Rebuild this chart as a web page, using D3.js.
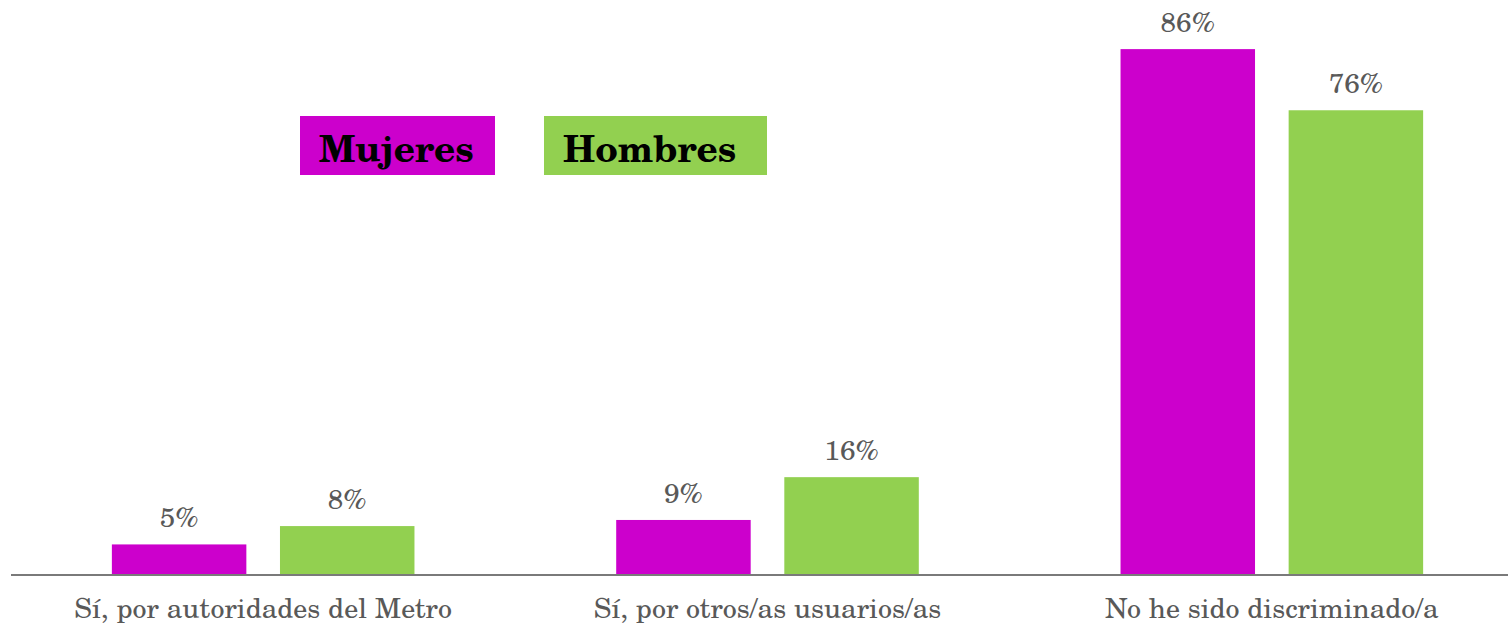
<!DOCTYPE html>
<html>
<head>
<meta charset="utf-8">
<script src="https://cdn.jsdelivr.net/npm/d3@7"></script>
<style>
  html, body { margin: 0; padding: 0; background: #ffffff; }
  svg { display: block; }
</style>
</head>
<body>
<svg id="chart" width="1508" height="626"></svg>
<script>
// Categories, series and their percentages
const categories = ["Sí, por autoridades del Metro", "Sí, por otros/as usuarios/as", "No he sido discriminado/a"];
const seriesNames = ["Mujeres", "Hombres"];
const mujeres = [5, 9, 86];
const hombres = [8, 16, 76];
const seriesColors = ["#CC00CC", "#92D050"];

const seriesValues = [mujeres, hombres];
const rows = categories.map((c, i) => ({
  category: c,
  values: seriesNames.map((s, j) => ({ series: s, value: seriesValues[j][i] }))
}));

const W = 1508, H = 626;
const baseY = 575;
const fontFamily = "'Century Schoolbook', 'TeX Gyre Schola', 'DejaVu Serif', serif";

const svg = d3.select("#chart");

const x0 = d3.scaleBand().domain(categories).range([11, 1524]).paddingInner(0).paddingOuter(0);
const x1 = d3.scaleBand().domain(seriesNames).range([0, x0.bandwidth()]).paddingInner(0.2).paddingOuter(0.6);
const y = d3.scaleLinear().domain([0, 100]).range([baseY, baseY - 611.5]);
const color = d3.scaleOrdinal().domain(seriesNames).range(seriesColors);

// Bars
const groups = svg.append("g").selectAll("g")
  .data(rows).join("g")
  .attr("transform", d => `translate(${x0(d.category)},0)`);

groups.selectAll("rect")
  .data(d => d.values).join("rect")
  .attr("x", d => x1(d.series))
  .attr("y", d => y(d.value))
  .attr("width", x1.bandwidth())
  .attr("height", d => y(0) - y(d.value))
  .attr("fill", d => color(d.series));

// Value labels
groups.selectAll("text")
  .data(d => d.values).join("text")
  .attr("x", d => x1(d.series) + x1.bandwidth() / 2)
  .attr("y", d => y(d.value) - 17)
  .attr("text-anchor", "middle")
  .attr("font-family", fontFamily)
  .attr("font-size", 28)
  .attr("fill", "#595959")
  .text(d => d.value + "%");

// Category axis
const axis = svg.append("g")
  .attr("transform", `translate(0,${baseY})`)
  .call(d3.axisBottom(x0).tickSize(0).tickSizeOuter(0));
axis.select(".domain").remove();
axis.append("line")
  .attr("x1", 11).attr("x2", W)
  .attr("y1", 0).attr("y2", 0)
  .attr("stroke", "#7a7a7a").attr("stroke-width", 2);
axis.selectAll(".tick text")
  .attr("y", 43).attr("dy", 0)
  .attr("font-family", fontFamily)
  .attr("font-size", 28)
  .attr("fill", "#595959");

// Legend
const legendBoxes = [
  { x: 300, w: 195 },
  { x: 544, w: 223 }
];
const legend = svg.append("g").selectAll("g")
  .data(seriesNames).join("g");
legend.append("rect")
  .attr("x", (d, i) => legendBoxes[i].x)
  .attr("y", 116)
  .attr("width", (d, i) => legendBoxes[i].w)
  .attr("height", 59)
  .attr("fill", d => color(d));
legend.append("text")
  .attr("x", (d, i) => legendBoxes[i].x + 19)
  .attr("y", 162)
  .attr("font-family", fontFamily)
  .attr("font-weight", "bold")
  .attr("font-size", 37)
  .attr("fill", "#000000")
  .text(d => d);
</script>
</body>
</html>
